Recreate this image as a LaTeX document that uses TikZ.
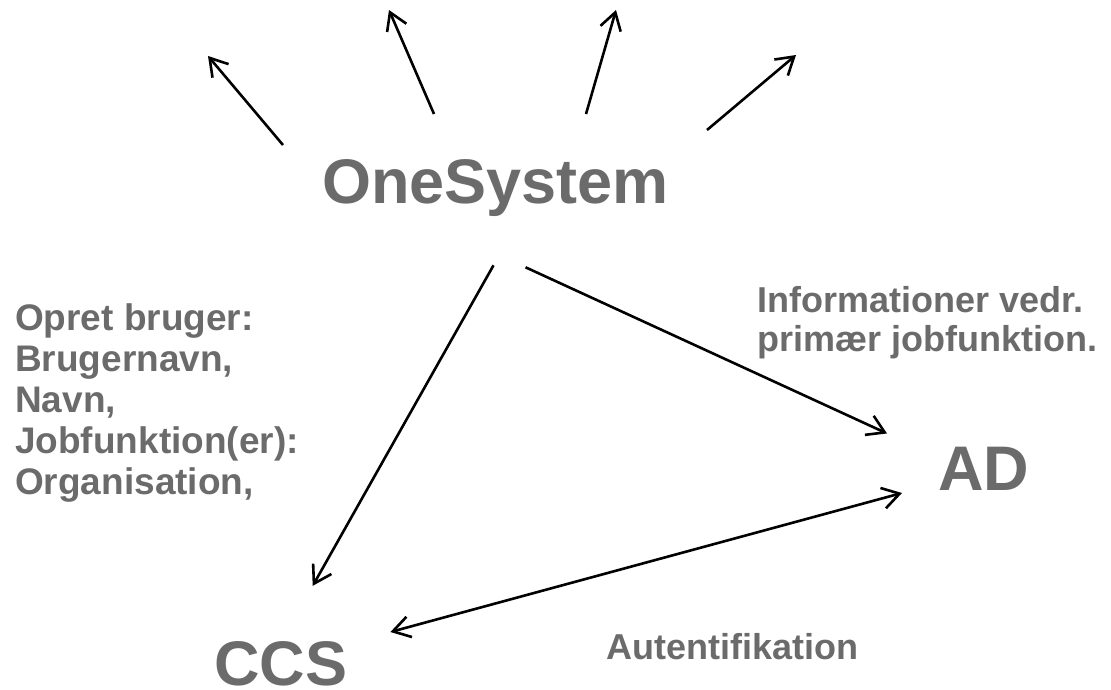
\documentclass[tikz,border=0pt]{standalone}
\usepackage{fontspec}
\setmainfont{Liberation Sans}
\usetikzlibrary{positioning}
\usetikzlibrary{arrows.meta}
\definecolor{labelgray}{HTML}{6B6B6B}
\tikzset{
    sysnode/.style = {inner sep=0pt, anchor=base west, text=labelgray, font=\bfseries\fontsize{63}{63}\selectfont},
    infonode/.style = {inner sep=0pt, anchor=base west, align=left, text=labelgray, font=\bfseries\fontsize{37}{41}\selectfont},
    inforight/.style = {inner sep=0pt, anchor=base west, align=left, text=labelgray, font=\bfseries\fontsize{36}{39}\selectfont},
    flow/.style = {-{Straight Barb[length=17pt,width=21pt]}, line width=2.6pt, black},
    flowboth/.style = {{Straight Barb[length=17pt,width=21pt]}-{Straight Barb[length=17pt,width=21pt]}, line width=2.6pt, black}
}

\begin{document}
\begin{tikzpicture}[x=1pt,y=-1pt]
  \useasboundingbox (0,0) rectangle (1111,689);

  % systems
  \node[sysnode] (os) at (322,203) {OneSystem};
  \node[sysnode] (ad) at (938,490) {AD};
  \node[sysnode] (ccs) at (214,685) {CCS};

  % texts (base = last line)
  \node[infonode] (opret) at (15,494) {Opret bruger:\\Brugernavn,\\Navn,\\Jobfunktion(er):\\Organisation,};
  \node[inforight] (info) at (757,351) {Informationer vedr.\\primær jobfunktion.};
  \node[inforight] (auth) at (606,659) {Autentifikation};

  % fan out of OneSystem
  \coordinate (f1s) at (283,145); \coordinate (f1e) at (208,56);
  \coordinate (f2s) at (434,114); \coordinate (f2e) at (389,10);
  \coordinate (f3s) at (586,114); \coordinate (f3e) at (616,10);
  \coordinate (f4s) at (707,130); \coordinate (f4e) at (796,55);
  \draw[flow] (f1s) -- (f1e);
  \draw[flow] (f2s) -- (f2e);
  \draw[flow] (f3s) -- (f3e);
  \draw[flow] (f4s) -- (f4e);

  % between systems
  \draw[flow] ([xshift=-2pt,yshift=-49pt]os.south) -- ([xshift=32pt,yshift=55pt]ccs.north);
  \draw[flow] ([xshift=30pt,yshift=-51pt]os.south) -- ([xshift=-51pt,yshift=13pt]ad.north west);
  \draw[flowboth] ([xshift=43pt,yshift=53pt]ccs.base east) -- ([xshift=-36pt,yshift=-3pt]ad.base west);
\end{tikzpicture}
\end{document}
